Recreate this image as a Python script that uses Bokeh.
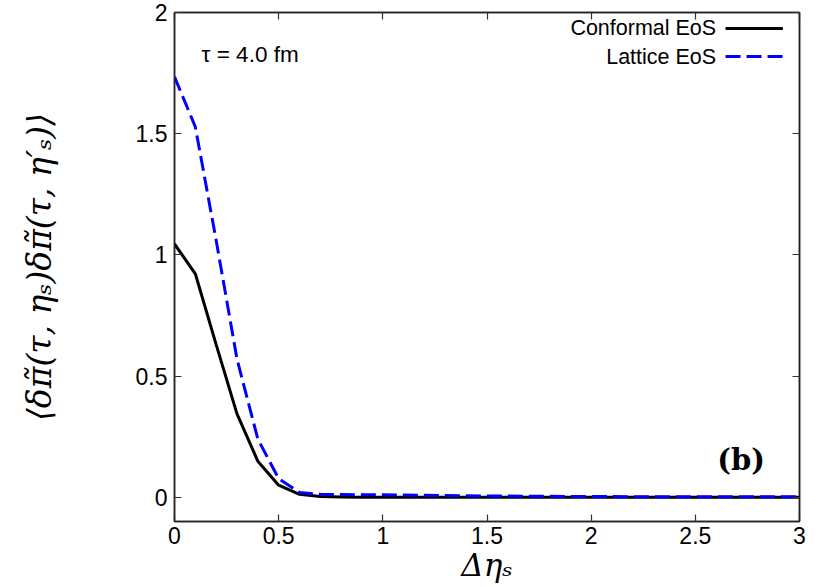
from bokeh.plotting import figure
from bokeh.models import LinearAxis, Label, Range1d, FixedTicker, CustomJSTickFormatter
from bokeh.embed import file_html
from bokeh.resources import INLINE

# Data
deta = [round(0.1 * i, 1) for i in range(31)]
conformal = [1.045, 0.922, 0.63, 0.344, 0.149, 0.05, 0.012, 0.003, 0.001, 0.0005,
             0.0, 0.0, 0.0, 0.0, 0.0, 0.0, 0.0, 0.0, 0.0, 0.0, 0.0,
             0.0, 0.0, 0.0, 0.0, 0.0, 0.0, 0.0, 0.0, 0.0, 0.0]
lattice = [1.735, 1.528, 1.06, 0.57, 0.24, 0.077, 0.02, 0.012, 0.011, 0.010,
           0.010, 0.009, 0.008, 0.007, 0.006, 0.005, 0.005, 0.004, 0.004, 0.003, 0.003,
           0.003, 0.002, 0.002, 0.002, 0.002, 0.002, 0.002, 0.002, 0.002, 0.002]
x_ticks = [0, 0.5, 1, 1.5, 2, 2.5, 3]
y_ticks = [0, 0.5, 1, 1.5, 2]
series_names = ["Conformal EoS", "Lattice EoS"]

SANS = "Liberation Sans"

p = figure(width=814, height=587, output_backend="svg", toolbar_location=None,
           x_range=Range1d(0, 3), y_range=Range1d(-0.1, 2),
           min_border_left=174, min_border_right=15, min_border_top=12, min_border_bottom=66)
p.grid.visible = False
p.outline_line_color = "#222222"
p.outline_line_width = 1.5
p.background_fill_color = "white"
p.border_fill_color = "white"

for ax in [p.xaxis[0], p.yaxis[0]]:
    ax.major_tick_in = 7
    ax.major_tick_out = 0
    ax.minor_tick_line_color = None
    ax.axis_line_color = "#222222"
    ax.axis_line_width = 1.5
    ax.major_tick_line_color = "#333333"
    ax.major_tick_line_width = 1.2
    ax.major_label_text_font = SANS
    ax.major_label_text_font_size = "23px"
    ax.major_label_text_color = "black"

p.xaxis[0].ticker = FixedTicker(ticks=x_ticks)
p.yaxis[0].ticker = FixedTicker(ticks=y_ticks)
p.xaxis[0].major_label_standoff = 5
p.yaxis[0].major_label_standoff = 7

p.xaxis[0].axis_label = "Δηₛ"
p.xaxis[0].axis_label_text_font = "DejaVu Serif"
p.xaxis[0].axis_label_text_font_style = "italic"
p.xaxis[0].axis_label_text_font_size = "31px"
p.xaxis[0].axis_label_text_color = "black"
p.xaxis[0].axis_label_standoff = 0

p.yaxis[0].axis_label = "⟨δπ̃(τ, ηₛ)δπ̃(τ, η′ₛ)⟩"
p.yaxis[0].axis_label_text_font = "DejaVu Serif"
p.yaxis[0].axis_label_text_font_style = "italic"
p.yaxis[0].axis_label_text_font_size = "33px"
p.yaxis[0].axis_label_text_color = "black"
p.yaxis[0].axis_label_standoff = 74

empty = CustomJSTickFormatter(code="return ''")
top = LinearAxis(ticker=FixedTicker(ticks=x_ticks), formatter=empty)
right = LinearAxis(ticker=FixedTicker(ticks=y_ticks), formatter=empty)
for ax in [top, right]:
    ax.major_tick_in = 7
    ax.major_tick_out = 0
    ax.minor_tick_line_color = None
    ax.axis_line_color = "#222222"
    ax.axis_line_width = 1.5
    ax.major_tick_line_color = "#333333"
    ax.major_tick_line_width = 1.2
    ax.major_label_standoff = 0
p.add_layout(top, "above")
p.add_layout(right, "right")

p.line(deta, conformal, line_color="black", line_width=3)
p.line(deta, lattice, line_color="#0000ff", line_width=3, line_dash="15 6")

# Legend (label on the left, sample on the right)
p.line([2.645, 2.92], [1.934, 1.934], line_color="black", line_width=3)
p.line([2.645, 2.92], [1.818, 1.818], line_color="#0000ff", line_width=3, line_dash="15 6")
p.add_layout(Label(x=2.6, y=1.934, text=series_names[0], text_align="right",
                   text_baseline="middle", text_font=SANS, text_font_size="21.5px", text_color="black"))
p.add_layout(Label(x=2.6, y=1.818, text=series_names[1], text_align="right",
                   text_baseline="middle", text_font=SANS, text_font_size="21.5px", text_color="black"))

p.add_layout(Label(x=0.13, y=1.825, text="τ = 4.0 fm", text_align="left",
                   text_baseline="middle", text_font=SANS, text_font_size="22.5px", text_color="black"))
p.add_layout(Label(x=2.72, y=0.155, text="(b)", text_align="center",
                   text_baseline="middle", text_font="DejaVu Serif", text_font_style="bold",
                   text_font_size="29px", text_color="black"))

open("out.html", "w").write(file_html(p, INLINE))
